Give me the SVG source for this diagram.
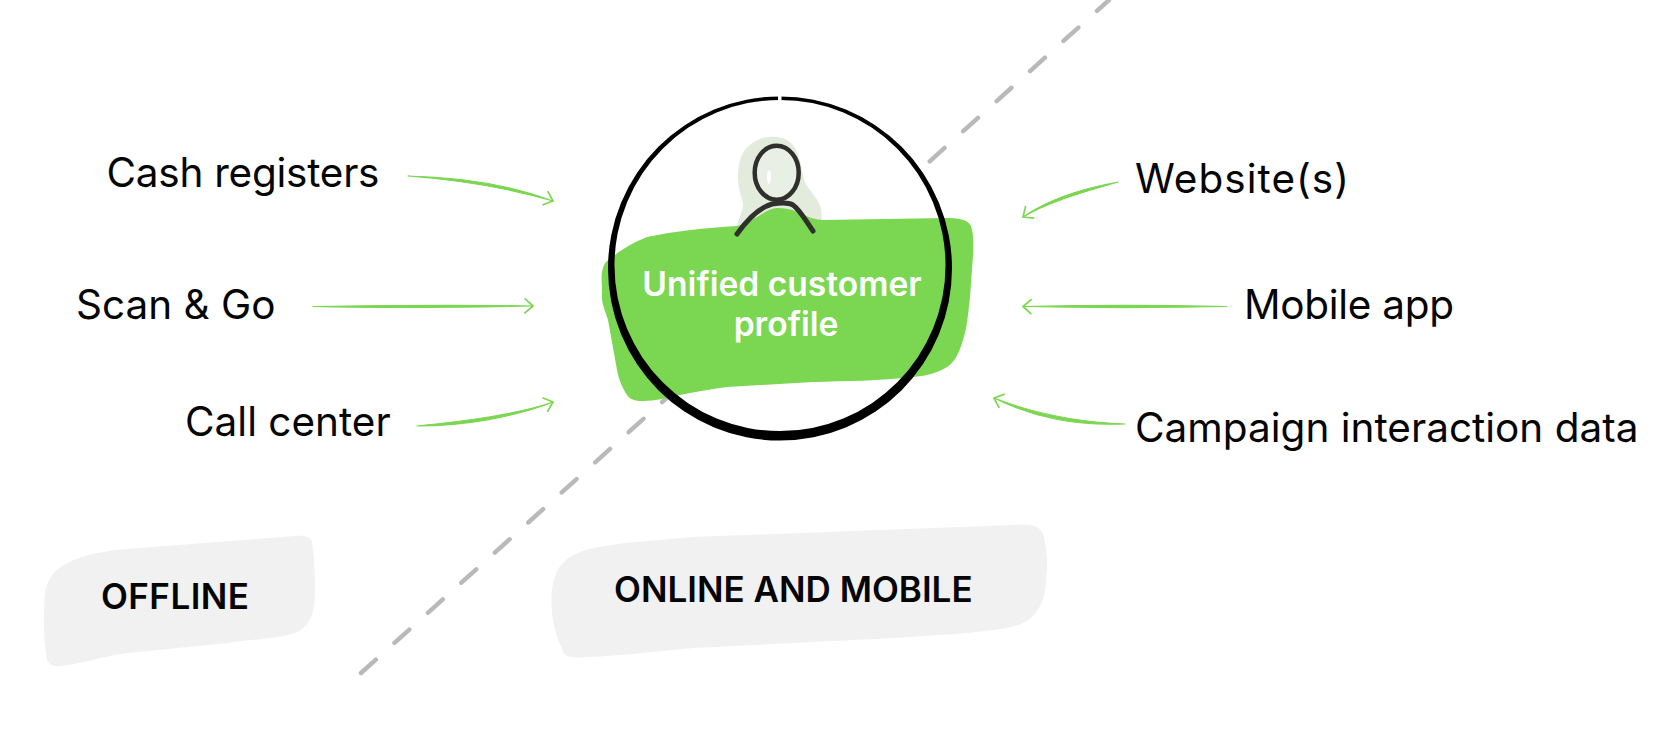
<svg xmlns="http://www.w3.org/2000/svg" width="1672" height="746" viewBox="0 0 1672 746">
<style>
text{font-family:"Inter","Liberation Sans",sans-serif;fill:#050505}
.lab{font-size:40.500px;font-weight:400}
.tag{font-size:35px;font-weight:600}
.uni{font-size:33.600px;font-weight:600;fill:#fff;text-anchor:middle}
.conn{fill:#7bd651;stroke:#7bd651;stroke-width:1.100;stroke-linecap:round;stroke-linejoin:round;marker-end:url(#head)}
.pad{fill:#f1f1f1}
</style>
<defs>
<marker id="head" markerUnits="userSpaceOnUse" markerWidth="18" markerHeight="20" refX="13" refY="10" orient="auto" overflow="visible">
<path d="M5,3 L13,10 L5,17" fill="none" stroke="#7bd651" stroke-width="1.700" stroke-linecap="round" stroke-linejoin="round"/>
</marker>
</defs>
<rect width="1672" height="746" fill="#fff"/>
<path id="divider" d="M361,673 L1109,0" fill="none" stroke="#b9b9b9" stroke-width="4.400" stroke-linecap="round" stroke-dasharray="20 25"/>
<g id="pad-offline">
<path class="pad" transform="translate(-2.500,0)" d="M47,600 C48,580 56,570 70,563 C85,555 100,553 117,550 L297,536 C308,535 315,537 315,545 C317,565 318,580 317,600 C316,618 310,628 297,633 C280,639 255,639 230,643 L130,653 C105,656 85,664 63,666 C54,667 50,664 49,657 C46,640 46,620 47,600Z"/>
<text class="tag" x="101" y="609" textLength="148">OFFLINE</text>
</g>
<g id="pad-online">
<path class="pad" transform="translate(-3.500,0)" d="M555,600 C555,585 558,575 563,567 C572,555 585,550 603,547 C635,541 665,540 697,537 L1017,525 C1038,524 1046,526 1048,540 C1051,555 1051,565 1050,573 C1049,590 1048,598 1043,607 C1036,620 1026,625 1010,628 C975,634 935,635 897,638 L697,648 C660,651 625,656 590,657 C575,658 569,658 566,650 C559,635 555,620 555,600Z"/>
<text class="tag" x="614" y="602">ONLINE AND MOBILE</text>
</g>
<g id="profile">
<circle cx="780" cy="267" r="170" fill="#fff"/>
<path fill="#e3ebdd" d="M738,173 C739,158 743,150 750,145 C758,138 768,136 777,137 C786,138 792,142 796,150 C800,158 802,170 804,180 C808,190 818,198 821,208 L822,224 L737,227 C738,218 744,210 743,203 C741,195 737,186 738,173Z"/>
<path fill="#7bd651" d="M606,262 C620,250 634,242 647,237 C675,231 705,228 737,226 C745,224 750,220 757,217 C765,212 771,208 777,208 C785,208 791,209 797,212 C806,216 814,220 823,220 L947,218 C960,218 968,220 971,226 C974,235 973,245 973,255 L970,297 C968,315 967,328 963,340 C959,353 955,362 947,367 C935,374 925,376 913,377 C880,381 845,381 813,382 L727,387 C710,389 695,392 680,395 C665,398 655,401 643,401 C634,401 630,399 627,395 C622,387 619,380 617,370 L608,320 C605,310 601,303 602,293 C602,283 601,277 602,272 C603,267 604,264 606,262Z"/>
<ellipse cx="776.700" cy="172.700" rx="22" ry="27" fill="#e9efe4" stroke="#2f2f2b" stroke-width="4.500"/>
<ellipse cx="769" cy="177" rx="2" ry="7" fill="#fff"/>
<path d="M737,234 C747,220 758,208 772,204 C778,203 788,202 793,205 C800,210 806,221 813,231" fill="none" stroke="#2f2f2b" stroke-width="5" stroke-linecap="round"/>
<text class="uni" x="782" y="296">Unified customer</text>
<text class="uni" x="786" y="336">profile</text>
<path fill="#000" fill-rule="evenodd" d="M608,268.500 A172,172 0 1 1 952,268.500 A172,172 0 1 1 608,268.500Z M614.500,265.500 A165.500,165.500 0 1 0 945.500,265.500 A165.500,165.500 0 1 0 614.500,265.500Z"/>
<rect x="778" y="95" width="3.500" height="7" fill="#fff"/>
</g>
<g id="connectors">
<path class="conn" d="M553,201 C510,188.500 460,180 408,176 C460,177 510,185 553,201"/>
<path class="conn" d="M533,306 C460,307.500 380,308 313,306.500 C380,305.500 460,304.800 533,306"/>
<path class="conn" d="M553,402 C515,417 465,426 417,426 C465,421 515,415 553,402"/>
<path class="conn" d="M1023,217 C1050,201 1085,192 1118,182 C1085,188 1050,198 1023,217"/>
<path class="conn" d="M1023,306.500 C1090,305 1160,305 1227,306.500 C1160,308 1090,308 1023,306.500"/>
<path class="conn" d="M994,398 C1035,418 1075,426 1125,424 C1075,422 1035,414 994,398"/>
</g>
<g id="src-cash"><text class="lab" x="106.500" y="187" textLength="273">Cash registers</text></g>
<g id="src-scan"><text class="lab" x="76" y="319">Scan &amp; Go</text></g>
<g id="src-call"><text class="lab" x="185" y="436">Call center</text></g>
<g id="src-web"><text class="lab" x="1135" y="193" textLength="214">Website(s)</text></g>
<g id="src-mobile"><text class="lab" x="1244" y="319" textLength="210">Mobile app</text></g>
<g id="src-campaign"><text class="lab" x="1135" y="442">Campaign interaction data</text></g>
</svg>
